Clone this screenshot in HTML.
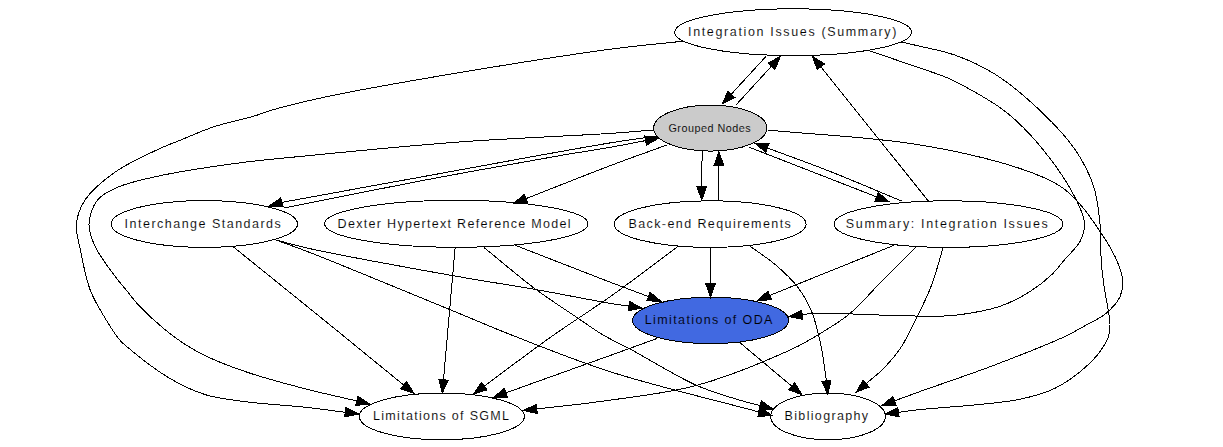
<!DOCTYPE html>
<html><head><meta charset="utf-8"><style>html,body{margin:0;padding:0;background:#fff;overflow:hidden}svg{display:block}text{font-family:"Liberation Sans",sans-serif;fill:#000}</style></head><body>
<svg width="1223" height="447" viewBox="0 0 1223 447">
<rect width="1223" height="447" fill="#fff"/>
<g fill="#fff" stroke="#000" stroke-width="1" shape-rendering="crispEdges">
<ellipse cx="793.1" cy="32.2" rx="118.4" ry="23.4" fill="#ffffff"/>
<ellipse cx="710.3" cy="128.1" rx="56.6" ry="23.0" fill="#cbcbcb"/>
<ellipse cx="204.3" cy="224.0" rx="93.2" ry="23.4" fill="#ffffff"/>
<ellipse cx="456.3" cy="223.8" rx="131.7" ry="23.5" fill="#ffffff"/>
<ellipse cx="710.2" cy="224.1" rx="95.9" ry="23.3" fill="#ffffff"/>
<ellipse cx="948.5" cy="224.1" rx="114.5" ry="23.3" fill="#ffffff"/>
<ellipse cx="710.6" cy="320.4" rx="78.0" ry="23.2" fill="#4169e1"/>
<ellipse cx="441.8" cy="416.4" rx="82.5" ry="23.4" fill="#ffffff"/>
<ellipse cx="828.0" cy="416.4" rx="57.3" ry="23.4" fill="#ffffff"/>
</g>
<g fill="none" stroke="#000" stroke-width="1" shape-rendering="crispEdges">
<path d="M685.00,41.00 C660.67,43.67 640.73,45.20 612.00,49.00 C570.28,54.51 507.78,64.52 459.00,72.70 C414.12,80.23 364.09,88.82 330.00,96.00 C307.38,100.76 287.84,105.51 273.90,109.50 C265.45,111.92 261.70,113.84 253.80,116.20 C242.72,119.51 226.19,122.69 213.50,126.90 C201.69,130.81 189.67,136.39 180.00,140.30 C172.59,143.29 168.17,144.68 160.40,148.30 C148.34,153.91 128.31,162.83 115.30,172.00 C103.64,180.22 91.70,189.93 85.20,199.70 C80.03,207.46 77.21,215.74 76.40,224.00 C75.59,232.17 78.36,239.69 80.20,249.00 C82.58,261.03 85.60,277.88 90.20,290.00 C94.18,300.50 99.86,309.38 105.00,318.00 C109.66,325.82 115.64,335.04 119.50,339.70 C121.58,342.21 122.12,342.62 124.90,345.00 C132.30,351.35 153.62,368.64 167.90,377.20 C180.44,384.71 192.06,390.55 205.40,394.70 C219.35,399.04 234.25,400.16 250.00,402.20 C267.57,404.47 289.00,405.44 306.00,407.30 C320.27,408.86 332.20,410.64 345.31,412.32"/>
<polygon fill="#000" points="344.7,416.9 358.5,414.0 345.9,407.7"/>
<path d="M653.40,130.00 C639.60,131.10 630.17,132.06 612.00,133.30 C577.11,135.68 509.97,138.24 459.00,142.00 C407.97,145.77 347.21,151.83 306.00,155.90 C278.02,158.66 259.78,160.11 235.60,163.40 C209.69,166.93 177.03,171.90 155.40,176.70 C140.41,180.02 128.12,182.66 117.80,187.20 C109.76,190.74 102.48,193.78 97.70,199.70 C92.71,205.88 89.30,216.00 89.00,224.00 C88.71,231.62 91.65,238.83 95.20,246.60 C99.61,256.24 109.46,268.69 115.30,276.60 C119.34,282.07 122.47,285.42 126.20,290.00 C130.13,294.81 133.37,299.51 138.30,304.80 C144.80,311.78 154.48,320.86 162.50,327.60 C169.71,333.66 176.45,338.81 184.00,343.70 C191.64,348.66 198.79,352.75 208.10,357.10 C219.98,362.65 234.90,368.18 250.00,373.20 C267.19,378.92 287.73,384.28 306.00,389.00 C323.31,393.47 339.90,396.97 356.85,400.96"/>
<polygon fill="#000" points="355.8,405.5 369.8,404.0 357.9,396.4"/>
<path d="M766.00,56.40 L731.29,94.20"/>
<polygon fill="#000" points="727.9,91.0 722.3,104.0 734.7,97.4"/>
<path d="M736.00,105.00 L771.43,66.22"/>
<polygon fill="#000" points="774.9,69.4 780.4,56.4 768.0,63.1"/>
<path d="M928.30,201.00 L820.81,66.78"/>
<polygon fill="#000" points="824.5,63.9 812.5,56.4 817.2,69.7"/>
<path d="M901.50,42.00 C906.67,43.20 910.71,44.08 917.00,45.60 C926.81,47.97 942.09,50.52 954.60,55.00 C967.99,59.79 981.32,65.58 994.70,74.00 C1010.31,83.82 1027.72,98.74 1041.60,112.00 C1054.34,124.17 1066.48,136.81 1075.40,150.00 C1083.43,161.88 1089.70,174.29 1093.80,186.90 C1097.71,198.92 1098.77,211.52 1100.00,223.80 C1101.21,235.88 1100.46,249.18 1101.20,260.00 C1101.81,268.83 1102.53,274.99 1103.70,284.00 C1105.23,295.72 1109.79,314.88 1110.00,324.30 C1110.11,329.36 1109.71,332.45 1108.70,336.00 C1107.78,339.23 1106.60,341.46 1104.50,344.80 C1101.21,350.04 1096.09,357.27 1089.50,363.50 C1080.68,371.84 1066.90,382.41 1054.50,388.50 C1042.67,394.31 1032.67,396.68 1017.00,399.80 C992.00,404.78 938.04,407.47 917.80,409.80 C908.86,410.83 904.93,411.46 898.49,412.30"/>
<polygon fill="#000" points="897.9,407.7 885.3,414.0 899.1,416.9"/>
<path d="M869.00,50.60 C885.33,56.20 903.81,62.45 918.00,67.40 C928.94,71.22 938.33,74.01 947.00,77.70 C954.39,80.85 959.35,83.41 967.00,87.70 C977.97,93.84 993.69,102.14 1006.00,112.00 C1019.26,122.62 1031.93,135.82 1043.40,150.00 C1055.60,165.09 1069.77,186.41 1076.60,200.40 C1080.97,209.35 1084.19,216.56 1084.50,223.80 C1084.76,229.93 1083.12,235.44 1080.30,241.00 C1076.96,247.58 1069.26,254.14 1064.30,260.00 C1060.02,265.06 1057.21,269.39 1052.30,274.10 C1046.20,279.95 1038.13,286.48 1029.80,291.70 C1020.83,297.32 1010.92,302.54 1000.00,306.30 C987.88,310.47 971.40,313.12 960.00,314.70 C951.62,315.86 946.82,315.98 938.00,316.20 C924.71,316.53 904.49,315.74 888.00,315.30 C871.83,314.87 853.86,313.89 840.00,313.60 C829.42,313.37 818.93,312.96 812.00,313.40 C807.88,313.66 805.45,314.28 802.18,314.72"/>
<polygon fill="#000" points="801.6,310.1 789.0,316.5 802.8,319.4"/>
<path d="M767.40,130.00 C817.60,134.87 872.90,137.16 918.00,144.60 C955.53,150.79 994.23,159.93 1020.00,168.50 C1036.51,173.99 1049.30,179.37 1059.40,185.70 C1066.73,190.29 1071.05,194.60 1076.60,200.40 C1082.98,207.07 1088.98,215.31 1095.00,224.00 C1101.81,233.82 1110.29,246.48 1115.00,256.60 C1118.71,264.57 1121.86,271.99 1122.50,279.10 C1123.06,285.26 1122.50,291.18 1120.00,296.70 C1117.16,302.98 1110.65,309.53 1105.00,314.20 C1099.70,318.59 1093.57,320.84 1087.40,324.30 C1080.63,328.09 1075.45,331.52 1066.00,336.00 C1048.91,344.10 1016.79,356.59 992.00,366.00 C967.39,375.35 935.56,385.88 917.80,392.30 C907.82,395.91 902.25,398.03 894.48,400.90"/>
<polygon fill="#000" points="892.9,396.5 882.0,405.5 896.1,405.3"/>
<path d="M656.60,136.10 C641.73,138.27 632.03,139.34 612.00,142.60 C570.33,149.39 478.68,166.56 420.00,177.20 C370.32,186.21 287.67,201.07 282.40,202.30 C282.07,202.38 282.06,202.40 281.89,202.45"/>
<polygon fill="#000" points="280.6,198.0 269.1,206.1 283.2,206.9"/>
<path d="M283.80,208.00 C329.20,199.00 374.25,189.68 420.00,181.00 C466.31,172.21 524.64,161.73 560.00,155.60 C581.52,151.87 596.56,149.75 612.00,147.00 C624.44,144.79 634.42,142.73 645.64,140.59"/>
<polygon fill="#000" points="646.5,145.2 658.7,138.1 644.8,136.0"/>
<path d="M667.40,144.80 C648.93,151.53 632.45,157.28 612.00,165.00 C586.40,174.67 554.59,187.44 525.89,198.66"/>
<polygon fill="#000" points="524.2,194.3 513.5,203.5 527.6,203.0"/>
<path d="M702.10,151.00 L701.81,186.90"/>
<polygon fill="#000" points="697.1,186.9 701.7,200.2 706.5,186.9"/>
<path d="M718.90,200.70 L718.90,165.00"/>
<polygon fill="#000" points="723.6,165.0 718.9,151.7 714.2,165.0"/>
<path d="M901.50,201.00 C877.23,190.97 852.00,180.07 828.70,170.90 C807.45,162.54 787.80,155.61 767.36,147.96"/>
<polygon fill="#000" points="769.0,143.6 754.9,143.3 765.7,152.3"/>
<path d="M748.60,147.00 L876.61,196.87"/>
<polygon fill="#000" points="874.9,201.2 889.0,201.7 878.3,192.5"/>
<path d="M233.00,246.60 C257.33,266.23 285.68,289.06 306.00,305.50 C320.60,317.31 329.61,324.62 343.60,336.00 C361.31,350.41 383.67,368.72 403.70,385.09"/>
<polygon fill="#000" points="400.7,388.7 414.0,393.5 406.7,381.5"/>
<path d="M274.40,239.50 C284.93,242.27 291.55,244.54 306.00,247.80 C336.74,254.75 409.34,267.88 451.40,275.40 C483.54,281.15 509.09,284.84 536.60,289.70 C562.52,294.28 595.85,301.04 612.00,303.70 C619.60,304.95 623.22,305.31 628.83,306.11"/>
<polygon fill="#000" points="628.2,310.7 642.0,308.0 629.5,301.5"/>
<path d="M274.40,239.50 C284.93,243.33 291.74,245.50 306.00,251.00 C336.54,262.77 410.52,293.49 448.90,309.20 C474.82,319.81 490.00,326.62 514.00,336.00 C543.25,347.43 575.73,360.71 612.00,372.30 C655.80,386.29 710.11,398.79 759.16,412.03"/>
<polygon fill="#000" points="757.9,416.5 772.0,415.5 760.4,407.5"/>
<path d="M455.10,247.80 L443.47,379.75"/>
<polygon fill="#000" points="438.8,379.3 442.3,393.0 448.1,380.2"/>
<path d="M484.00,247.50 C500.97,261.23 518.46,276.45 534.90,288.70 C549.48,299.57 564.99,309.40 577.40,317.80 C587.02,324.31 594.27,329.77 603.10,335.00 C611.87,340.20 619.21,343.24 630.20,349.10 C647.49,358.32 676.35,376.49 696.60,385.40 C712.53,392.41 729.10,396.95 740.90,400.50 C748.61,402.82 753.79,403.86 760.23,405.54"/>
<polygon fill="#000" points="759.1,410.1 773.1,408.9 761.4,401.0"/>
<path d="M515.30,245.30 C547.53,257.83 587.46,273.54 612.00,282.90 C627.03,288.63 636.30,291.99 648.44,296.54"/>
<polygon fill="#000" points="646.8,300.9 660.9,301.2 650.1,292.2"/>
<path d="M677.70,246.60 C655.80,262.87 633.53,280.09 612.00,295.40 C591.78,309.78 572.72,321.55 552.30,336.00 C530.21,351.63 506.91,369.41 484.21,386.12"/>
<polygon fill="#000" points="481.4,382.4 473.5,394.0 487.0,389.9"/>
<path d="M710.50,247.80 L710.50,283.90"/>
<polygon fill="#000" points="705.8,283.9 710.5,297.2 715.2,283.9"/>
<path d="M749.00,245.40 C757.93,251.97 767.60,258.06 775.80,265.10 C783.64,271.83 791.27,278.72 797.30,286.60 C803.18,294.29 807.88,302.54 811.70,311.70 C815.81,321.55 818.22,333.03 820.60,344.00 C823.01,355.12 825.31,372.88 826.00,378.00 C826.20,379.48 826.21,379.92 826.32,380.88"/>
<polygon fill="#000" points="821.7,381.4 827.8,394.1 831.0,380.4"/>
<path d="M894.00,245.30 L769.73,295.42"/>
<polygon fill="#000" points="768.0,291.1 757.4,300.4 771.5,299.8"/>
<path d="M916.50,246.60 C905.20,257.80 893.79,268.96 882.60,280.20 C871.49,291.36 861.74,303.87 849.60,313.80 C837.33,323.83 820.42,333.50 809.30,340.00 C801.82,344.38 799.01,346.06 790.00,350.10 C770.70,358.76 728.43,376.82 696.60,385.40 C665.08,393.89 628.85,397.40 600.00,401.50 C576.72,404.81 557.81,406.46 536.71,408.95"/>
<polygon fill="#000" points="536.2,404.3 523.5,410.5 537.3,413.6"/>
<path d="M943.20,247.20 C940.47,256.47 937.55,267.15 935.00,275.00 C933.10,280.86 931.95,284.49 929.60,290.20 C926.41,297.94 921.57,307.83 917.00,317.00 C912.07,326.89 906.93,338.50 900.90,347.50 C895.47,355.61 889.14,362.74 883.00,369.00 C877.52,374.59 871.77,378.73 866.15,383.59"/>
<polygon fill="#000" points="863.1,380.1 856.1,392.3 869.2,387.1"/>
<path d="M657.00,338.50 C642.00,343.93 630.17,348.25 612.00,354.80 C584.13,364.84 541.35,380.14 506.02,392.81"/>
<polygon fill="#000" points="504.4,388.4 493.5,397.3 507.6,397.2"/>
<path d="M739.50,342.30 L791.82,386.25"/>
<polygon fill="#000" points="788.8,389.8 802.0,394.8 794.8,382.7"/>
</g>
<g>
<text x="688.0" y="36.3" font-size="12.50" textLength="208.4" lengthAdjust="spacing" stroke="#ffffff" stroke-width="0.1">Integration Issues (Summary)</text>
<text x="668.4" y="131.8" font-size="10.80" textLength="82.2" lengthAdjust="spacing" stroke="#cbcbcb" stroke-width="0.1">Grouped Nodes</text>
<text x="124.6" y="228.0" font-size="12.50" textLength="156.2" lengthAdjust="spacing" stroke="#ffffff" stroke-width="0.1">Interchange Standards</text>
<text x="337.6" y="228.2" font-size="12.50" textLength="233.0" lengthAdjust="spacing" stroke="#ffffff" stroke-width="0.1">Dexter Hypertext Reference Model</text>
<text x="628.4" y="228.0" font-size="12.50" textLength="162.4" lengthAdjust="spacing" stroke="#ffffff" stroke-width="0.1">Back-end Requirements</text>
<text x="845.8" y="227.8" font-size="12.50" textLength="202.0" lengthAdjust="spacing" stroke="#ffffff" stroke-width="0.1">Summary: Integration Issues</text>
<text x="644.8" y="323.7" font-size="12.50" textLength="127.6" lengthAdjust="spacing" stroke="#4169e1" stroke-width="0.1">Limitations of ODA</text>
<text x="373.0" y="419.8" font-size="12.50" textLength="136.0" lengthAdjust="spacing" stroke="#ffffff" stroke-width="0.1">Limitations of SGML</text>
<text x="784.6" y="419.8" font-size="12.50" textLength="83.4" lengthAdjust="spacing" stroke="#ffffff" stroke-width="0.1">Bibliography</text>
</g>
</svg></body></html>
